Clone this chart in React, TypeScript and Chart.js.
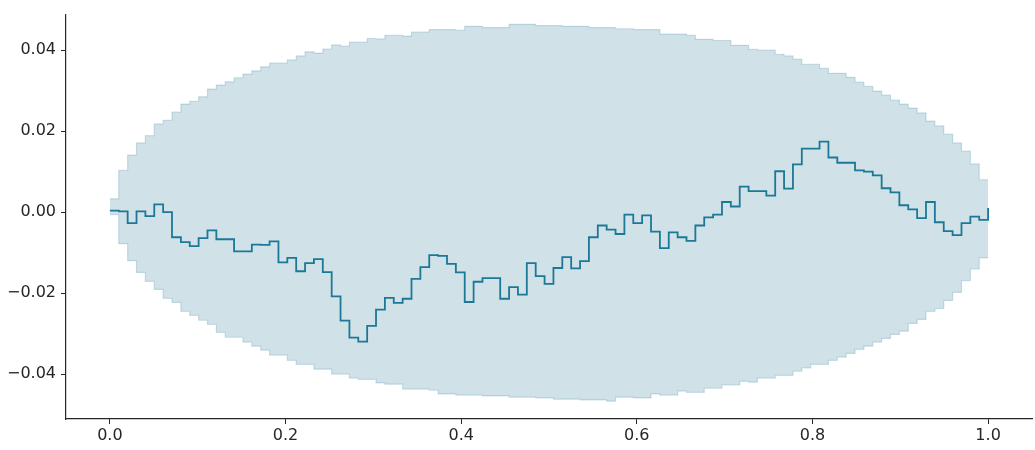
import React, { useEffect, useRef } from "react";
import { Chart, registerables } from "chart.js";

Chart.register(...registerables);

const stepCount = 99;

const lineValues = [
  0.0004, 0.0002, -0.0027, 0.0002, -0.001, 0.0019, 0.0, -0.0062, -0.0074, -0.0084,
  -0.0064, -0.0045, -0.0067, -0.0067, -0.0097, -0.0097, -0.008, -0.0081, -0.0072, -0.0124,
  -0.0113, -0.0146, -0.0126, -0.0116, -0.0148, -0.0208, -0.0268, -0.031, -0.032, -0.0281,
  -0.0241, -0.0212, -0.0224, -0.0214, -0.0165, -0.0136, -0.0106, -0.0108, -0.0128, -0.0149,
  -0.0222, -0.0172, -0.0163, -0.0163, -0.0214, -0.0185, -0.0204, -0.0126, -0.0158, -0.0177,
  -0.0138, -0.0111, -0.0139, -0.0121, -0.0062, -0.0033, -0.0043, -0.0054, -0.0006, -0.0027,
  -0.0008, -0.0048, -0.0089, -0.005, -0.0062, -0.0071, -0.0033, -0.0013, -0.0006, 0.0025,
  0.0014, 0.0063, 0.0052, 0.0052, 0.0041, 0.0101, 0.0058, 0.0118, 0.0157, 0.0157,
  0.0174, 0.0135, 0.0122, 0.0122, 0.0103, 0.01, 0.0091, 0.0059, 0.0049, 0.0017,
  0.0007, -0.0015, 0.0025, -0.0025, -0.0047, -0.0057, -0.0027, -0.0011, -0.0019, 0.001,
];

const upperValues = [
  0.0033, 0.0103, 0.0141, 0.0171, 0.0189, 0.0218, 0.0227, 0.0247, 0.0267, 0.0274,
  0.0285, 0.0304, 0.0314, 0.0322, 0.0332, 0.0341, 0.0349, 0.0359, 0.0368, 0.0368,
  0.0376, 0.0386, 0.0396, 0.0393, 0.0403, 0.0413, 0.041, 0.042, 0.042, 0.0429,
  0.0428, 0.0437, 0.0437, 0.0435, 0.0445, 0.0445, 0.0451, 0.0451, 0.0451, 0.0449,
  0.0459, 0.0459, 0.0456, 0.0456, 0.0456, 0.0464, 0.0464, 0.0464, 0.0461, 0.0461,
  0.0461, 0.0459, 0.0459, 0.0459, 0.0456, 0.0456, 0.0456, 0.0453, 0.0453, 0.0451,
  0.0451, 0.0451, 0.044, 0.044, 0.044, 0.0437, 0.0427, 0.0427, 0.0424, 0.0424,
  0.0412, 0.0412, 0.0402, 0.04, 0.04, 0.039, 0.0386, 0.0378, 0.0365, 0.0365,
  0.0355, 0.0343, 0.0343, 0.0333, 0.0321, 0.0311, 0.0299, 0.0289, 0.0277, 0.0267,
  0.0257, 0.0245, 0.0225, 0.0213, 0.0193, 0.0171, 0.0151, 0.0119, 0.008, 0.008,
];

const lowerValues = [
  -0.0006, -0.0078, -0.012, -0.0149, -0.0171, -0.0191, -0.0213, -0.0223, -0.0245, -0.0255,
  -0.0267, -0.0277, -0.0297, -0.0309, -0.0309, -0.0321, -0.0331, -0.0341, -0.0353, -0.0353,
  -0.0366, -0.0376, -0.0376, -0.0388, -0.0388, -0.04, -0.04, -0.041, -0.0413, -0.0413,
  -0.0422, -0.0425, -0.0425, -0.0437, -0.0437, -0.0437, -0.044, -0.0449, -0.0449, -0.0452,
  -0.0452, -0.0452, -0.0454, -0.0454, -0.0454, -0.0457, -0.0457, -0.0457, -0.0459, -0.0459,
  -0.0462, -0.0462, -0.0462, -0.0464, -0.0464, -0.0464, -0.0467, -0.0457, -0.0457, -0.0459,
  -0.0459, -0.0449, -0.0452, -0.0452, -0.0442, -0.0445, -0.0445, -0.0435, -0.0435, -0.0427,
  -0.0427, -0.0418, -0.042, -0.041, -0.041, -0.0403, -0.0403, -0.0393, -0.0385, -0.0376,
  -0.0376, -0.0366, -0.0358, -0.0349, -0.0339, -0.0331, -0.0321, -0.0312, -0.0302, -0.0294,
  -0.0275, -0.0265, -0.0245, -0.0238, -0.0218, -0.0198, -0.0169, -0.014, -0.0113, -0.0113,
];

const xTickValues = [0, 0.2, 0.4, 0.6, 0.8, 1.0];
const yTickValues = [-0.04, -0.02, 0, 0.02, 0.04];

const TEXT = "#262626";
const FONT = { family: "'DejaVu Sans', sans-serif", size: 16 };

const toPoints = (vals: number[]) => vals.map((y, i) => ({ x: i / stepCount, y }));
const fmt = (v: number, d: number) => {
  const s = Math.abs(v).toFixed(d);
  return v < -1e-9 ? "\u2212" + s : s;
};

export default function App() {
  const ref = useRef<HTMLCanvasElement | null>(null);

  useEffect(() => {
    if (!ref.current) return;
    const chart = new Chart(ref.current, {
      type: "line",
      data: {
        datasets: [
          {
            label: "path",
            data: toPoints(lineValues),
            borderColor: "#1b7896",
            borderWidth: 1.8,
            pointRadius: 0,
            stepped: true,
            fill: false,
            order: 0,
          },
          {
            label: "upper",
            data: toPoints(upperValues),
            borderColor: "rgba(20,112,142,0.2)",
            borderWidth: 1.2,
            backgroundColor: "rgba(20,112,142,0.2)",
            pointRadius: 0,
            stepped: true,
            fill: "+1",
            order: 1,
          },
          {
            label: "lower",
            data: toPoints(lowerValues),
            borderColor: "rgba(20,112,142,0.2)",
            borderWidth: 1.2,
            pointRadius: 0,
            stepped: true,
            fill: false,
            order: 2,
          },
        ],
      },
      options: {
        animation: false,
        responsive: false,
        maintainAspectRatio: false,
        layout: { padding: { top: 13, right: 3, left: 0, bottom: 0 } },
        plugins: { legend: { display: false }, tooltip: { enabled: false } },
        scales: {
          x: {
            type: "linear",
            min: -0.05,
            max: 1.05,
            afterBuildTicks: (s: any) => {
              s.ticks = xTickValues.map((v) => ({ value: v }));
            },
            afterFit: (s: any) => {
              s.height = 31;
            },
            ticks: {
              color: TEXT,
              font: FONT,
              padding: 2,
              maxRotation: 0,
              autoSkip: false,
              callback: (v: any) => fmt(Number(v), 1),
            },
            grid: {
              display: true,
              drawOnChartArea: false,
              drawTicks: true,
              tickLength: 5,
              tickColor: TEXT,
              tickWidth: 1,
            },
            border: { display: true, color: TEXT, width: 1.2 },
          },
          y: {
            type: "linear",
            min: -0.0511,
            max: 0.0488,
            afterBuildTicks: (s: any) => {
              s.ticks = yTickValues.map((v) => ({ value: v }));
            },
            afterFit: (s: any) => {
              s.width = 66;
            },
            ticks: {
              color: TEXT,
              font: FONT,
              padding: 5,
              autoSkip: false,
              callback: (v: any) => fmt(Number(v), 2),
            },
            grid: {
              display: true,
              drawOnChartArea: false,
              drawTicks: true,
              tickLength: 5,
              tickColor: TEXT,
              tickWidth: 1,
            },
            border: { display: true, color: TEXT, width: 1.2 },
          },
        },
      },
    } as any);
    return () => chart.destroy();
  }, []);

  return (
    <div style={{ position: "fixed", left: 0, top: 0, width: 1035, height: 450, background: "#fff" }}>
      <canvas ref={ref} width={1035} height={450} style={{ display: "block", width: 1035, height: 450 }} />
    </div>
  );
}
